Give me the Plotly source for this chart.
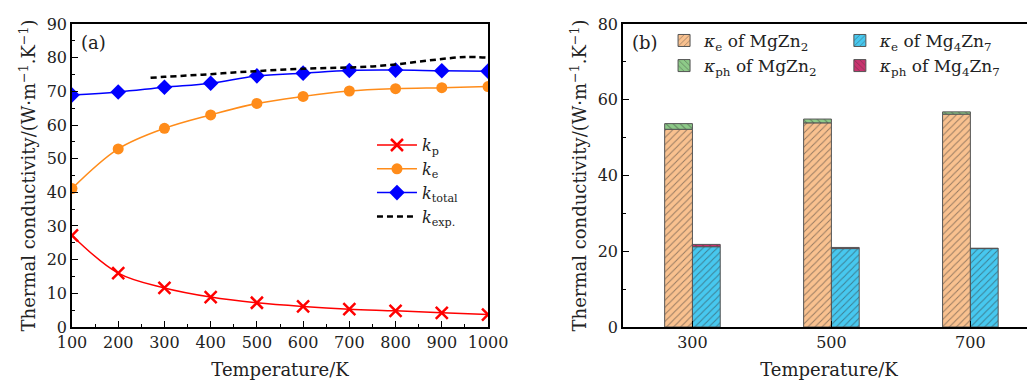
import plotly.graph_objects as go

# ---------- Panel (a) data ----------
T = [100, 200, 300, 400, 500, 600, 700, 800, 900, 1000]
k_p = [27.2, 16.0, 11.6, 8.9, 7.2, 6.1, 5.3, 4.8, 4.2, 3.7]
k_e = [41.1, 52.9, 59.0, 63.0, 66.4, 68.5, 70.1, 70.8, 71.1, 71.4]
k_total = [68.9, 69.8, 71.2, 72.4, 74.6, 75.4, 76.2, 76.3, 76.1, 76.0]
T_exp = [270, 300, 350, 400, 450, 500, 550, 600, 650, 700, 750, 800, 850, 900, 950, 1000]
k_exp = [74.0, 74.3, 74.7, 75.1, 75.6, 76.0, 76.4, 76.7, 76.9, 77.1, 77.4, 78.0, 78.8, 79.6, 80.2, 80.0]

# ---------- Panel (b) data ----------
T_bar = [300, 500, 700]
ke_MgZn2 = [52.2, 53.9, 56.2]
kph_MgZn2 = [1.5, 1.0, 0.6]
ke_Mg4Zn7 = [21.2, 20.7, 20.7]
kph_Mg4Zn7 = [0.6, 0.3, 0.1]

FONT = "DejaVu Serif"
fig = go.Figure()

fig.add_trace(go.Scatter(x=T, y=k_p, mode="lines+markers", line=dict(color="#FF0000", width=1.5, shape="spline"),
                         marker=dict(symbol="x-thin", size=12, line=dict(color="#FF0000", width=2.5)),
                         name="<i>k</i><sub>p</sub>", xaxis="x", yaxis="y", legend="legend"))
fig.add_trace(go.Scatter(x=T, y=k_e, mode="lines+markers", line=dict(color="#FF8C1A", width=1.5, shape="spline"),
                         marker=dict(symbol="circle", size=11, color="#FF8C1A"),
                         name="<i>k</i><sub>e</sub>", xaxis="x", yaxis="y", legend="legend"))
fig.add_trace(go.Scatter(x=T, y=k_total, mode="lines+markers", line=dict(color="#0000FF", width=1.5, shape="spline"),
                         marker=dict(symbol="diamond", size=12, color="#0000FF"),
                         name="<i>k</i><sub>total</sub>", xaxis="x", yaxis="y", legend="legend"))
fig.add_trace(go.Scatter(x=T_exp, y=k_exp, mode="lines", line=dict(color="#000000", width=2.5, dash="6px,4px", shape="spline"),
                         name="<i>k</i><sub>exp.</sub>", xaxis="x", yaxis="y", legend="legend"))

ORANGE = "#F9C18F"
BLUE = "#47C8EF"
GREEN = "#8DCA88"
PINK = "#C9336F"
W = 40


def bar(x, y, base, offset, color, shape, name, leg):
    return go.Bar(x=x, y=y, base=base, offset=offset, width=W, name=name,
                  marker=dict(color=color, line=dict(color="#555555", width=1),
                              pattern=dict(shape=shape, fgcolor="#333333", size=5, solidity=0.2)),
                  xaxis="x2", yaxis="y2", legend=leg)


fig.add_trace(bar(T_bar, ke_MgZn2, None, -W, ORANGE, "/", "<i>κ</i><sub>e</sub> of MgZn<sub>2</sub>", "legend2"))
fig.add_trace(bar(T_bar, kph_MgZn2, ke_MgZn2, -W, GREEN, "\\", "<i>κ</i><sub>ph</sub> of MgZn<sub>2</sub>", "legend2"))
fig.add_trace(bar(T_bar, ke_Mg4Zn7, None, 0, BLUE, "/", "<i>κ</i><sub>e</sub> of Mg<sub>4</sub>Zn<sub>7</sub>", "legend3"))
fig.add_trace(bar(T_bar, kph_Mg4Zn7, ke_Mg4Zn7, 0, PINK, "\\", "<i>κ</i><sub>ph</sub> of Mg<sub>4</sub>Zn<sub>7</sub>", "legend3"))

ytitle = "Thermal conductivity/(W·m<sup>−1</sup>.K<sup>−1</sup>)"
TF = 18
axis_common = dict(showline=True, linecolor="black", linewidth=1.5, ticks="inside", ticklen=6,
                   tickcolor="black", tickfont=dict(family=FONT, size=16, color="#222"), showgrid=False,
                   zeroline=False)

leg_common = dict(xanchor="left", yanchor="top", bgcolor="rgba(0,0,0,0)",
                  tracegroupgap=0, traceorder="normal")

# The page body adds an 8 px margin, so the figure is 8 px smaller than the window.
fig.update_layout(
    width=1027, height=373, margin=dict(l=0, r=0, t=0, b=0, autoexpand=False),
    plot_bgcolor="white", paper_bgcolor="white",
    font=dict(family=FONT, size=16, color="#222"),
    barmode="overlay",
    xaxis=dict(domain=[0.0623, 0.4674], anchor="y", range=[100, 1000], tickvals=T, mirror=True,
               minor=dict(dtick=50, tick0=50, ticks="inside", ticklen=3, tickcolor="black"),
               title=dict(text="Temperature/K", font=dict(family=FONT, size=TF), standoff=12), **axis_common),
    yaxis=dict(domain=[0.1448, 0.9571], anchor="x", range=[0, 90], dtick=10, mirror=True,
               minor=dict(dtick=5, ticks="inside", ticklen=3, tickcolor="black"),
               title=dict(text=ytitle, font=dict(family=FONT, size=TF), standoff=6), **axis_common),
    xaxis2=dict(domain=[0.5988, 1.0], anchor="y2", range=[200, 793], tickvals=T_bar, mirror=True,
                title=dict(text="Temperature/K", font=dict(family=FONT, size=TF), standoff=12), **axis_common),
    yaxis2=dict(domain=[0.1448, 0.9571], anchor="x2", range=[0, 80], dtick=20, mirror=False,
                minor=dict(dtick=10, ticks="inside", ticklen=3, tickcolor="black"),
                title=dict(text=ytitle, font=dict(family=FONT, size=TF), standoff=6), **axis_common),
    legend=dict(x=0.3544, y=0.678, itemwidth=40, font=dict(family=FONT, size=16), **leg_common),
    legend2=dict(x=0.6388, y=0.96, font=dict(family=FONT, size=17), **leg_common),
    legend3=dict(x=0.810, y=0.96, font=dict(family=FONT, size=17), **leg_common),
    showlegend=True,
    annotations=[
        dict(text="(a)", x=0.0623, y=0.9571, xref="paper", yref="paper", xanchor="left", yanchor="top",
             xshift=7, yshift=-6, showarrow=False, font=dict(family=FONT, size=18)),
        dict(text="(b)", x=0.5988, y=0.9571, xref="paper", yref="paper", xanchor="left", yanchor="top",
             xshift=7, yshift=-6, showarrow=False, font=dict(family=FONT, size=18)),
    ],
)

fig.write_html("out.html")
